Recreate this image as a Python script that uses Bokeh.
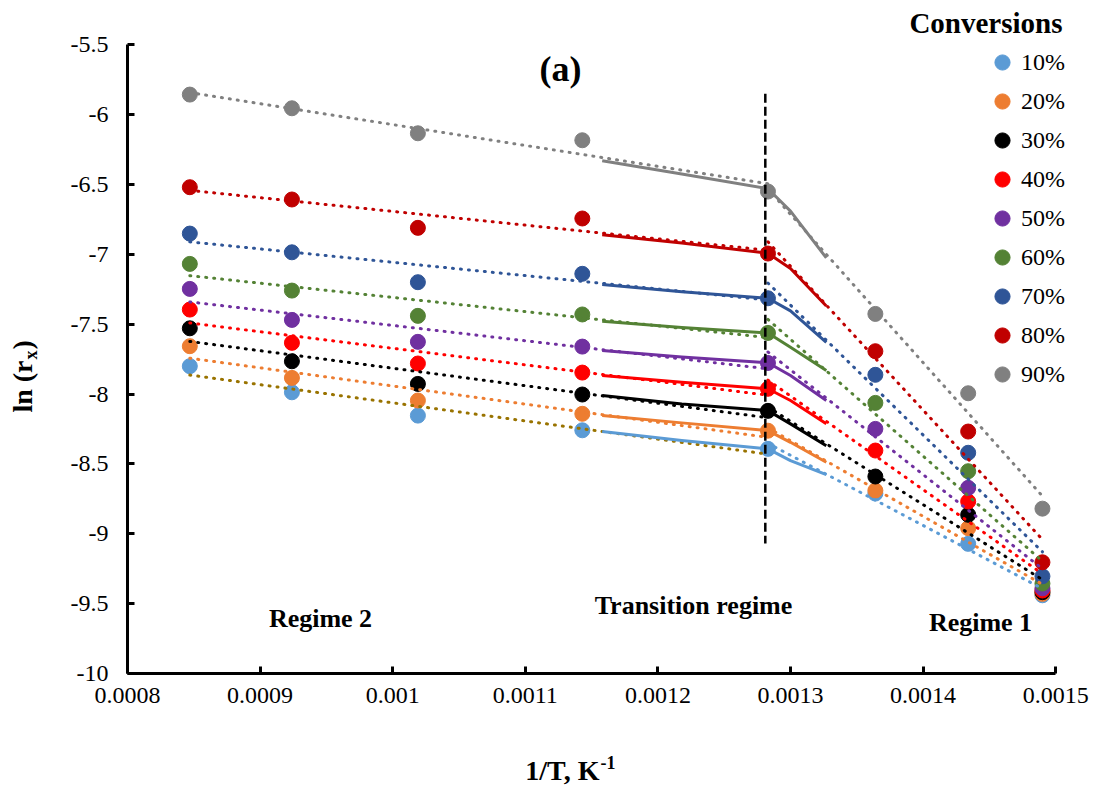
import numpy as np
from math import pi
from bokeh.plotting import figure
from bokeh.models import (Range1d, FixedTicker, NumeralTickFormatter, Legend,
                          LegendItem, Label)
from bokeh.embed import file_html
from bokeh.resources import INLINE

# ---------------- data ----------------
inv_T = [0.000847, 0.000924, 0.001019, 0.001143, 0.001283, 0.001364, 0.001434, 0.00149]

conversions = ["10%", "20%", "30%", "40%", "50%", "60%", "70%", "80%", "90%"]
colors = ["#5B9BD5", "#ED7D31", "#000000", "#FF0000", "#7030A0",
          "#548235", "#2F5597", "#C00000", "#808080"]
regime2_trend_colors = ["#997300", "#ED7D31", "#000000", "#FF0000", "#7030A0",
                        "#548235", "#2F5597", "#C00000", "#808080"]

ln_r_10 = [-7.800, -7.987, -8.154, -8.259, -8.392, -8.712, -9.072, -9.440]
ln_r_20 = [-7.657, -7.884, -8.046, -8.141, -8.262, -8.690, -8.960, -9.430]
ln_r_30 = [-7.529, -7.765, -7.927, -8.003, -8.120, -8.590, -8.864, -9.418]
ln_r_40 = [-7.395, -7.633, -7.781, -7.846, -7.962, -8.404, -8.769, -9.406]
ln_r_50 = [-7.247, -7.469, -7.626, -7.660, -7.777, -8.249, -8.671, -9.390]
ln_r_60 = [-7.068, -7.259, -7.440, -7.430, -7.562, -8.063, -8.552, -9.356]
ln_r_70 = [-6.851, -6.985, -7.199, -7.139, -7.314, -7.862, -8.420, -9.304]
ln_r_80 = [-6.519, -6.607, -6.810, -6.743, -6.994, -7.693, -8.268, -9.204]
ln_r_90 = [-5.856, -5.954, -6.133, -6.183, -6.550, -7.426, -7.994, -8.820]
ln_r = [ln_r_10, ln_r_20, ln_r_30, ln_r_40, ln_r_50, ln_r_60, ln_r_70, ln_r_80, ln_r_90]

# transition-regime curves (solid lines)
trans_x = [0.001158, 0.001218, 0.001283, 0.0013, 0.001327]
trans_10 = [-8.268, -8.332, -8.392, -8.476, -8.576]
trans_20 = [-8.154, -8.206, -8.261, -8.345, -8.488]
trans_30 = [-8.010, -8.071, -8.118, -8.213, -8.370]
trans_40 = [-7.867, -7.915, -7.962, -8.046, -8.213]
trans_50 = [-7.688, -7.735, -7.776, -7.867, -8.046]
trans_60 = [-7.479, -7.523, -7.562, -7.665, -7.831]
trans_70 = [-7.216, -7.267, -7.314, -7.404, -7.629]
trans_80 = [-6.860, -6.919, -6.992, -7.101, -7.370]
trans_90 = [-6.330, -6.425, -6.530, -6.690, -7.025]
trans = [trans_10, trans_20, trans_30, trans_40, trans_50, trans_60, trans_70, trans_80, trans_90]

regime2_idx = slice(0, 5)   # points fitted for regime 2 trendline
regime1_idx = slice(4, 8)   # points fitted for regime 1 trendline

boundary_x = 0.001281
boundary_y = [-5.85, -9.07]

x_ticks = [0.0008, 0.0009, 0.001, 0.0011, 0.0012, 0.0013, 0.0014, 0.0015]
y_ticks = [-10, -9.5, -9, -8.5, -8, -7.5, -7, -6.5, -6, -5.5]

# ---------------- layout ----------------
W, H = 1098, 787
AX_LEFT_PX, AX_BOTTOM_PX = 127, 673   # where the axes sit on the canvas
XPX = 1326000.0   # px per x unit
YPX = 139.7       # px per y unit


def X(px):
    return 0.0008 + (px - AX_LEFT_PX) / XPX


def Y(py):
    return -10.0 + (AX_BOTTOM_PX - py) / YPX


FONT = "Liberation Serif"

p = figure(width=W, height=H, x_range=Range1d(X(0), X(W)),
           y_range=Range1d(Y(H), Y(0)), output_backend="svg",
           toolbar_location=None, min_border=0, min_border_left=0,
           min_border_right=0, min_border_top=0, min_border_bottom=0,
           background_fill_color="white", border_fill_color="white")
p.outline_line_color = None
p.grid.visible = False

for ax, ticks, fmt, bounds, loc in (
        (p.xaxis[0], x_ticks, "0.[0000]", (0.0008, 0.0015), -10.0),
        (p.yaxis[0], y_ticks, "0.[0]", (-10, -5.5), 0.0008)):
    ax.ticker = FixedTicker(ticks=ticks)
    ax.formatter = NumeralTickFormatter(format=fmt)
    ax.bounds = bounds
    ax.fixed_location = loc
    ax.axis_line_width = 3
    ax.axis_line_color = "black"
    ax.major_tick_line_width = 3
    ax.major_tick_line_color = "black"
    ax.major_tick_in = 7
    ax.major_tick_out = 0
    ax.minor_tick_line_color = None
    ax.major_label_text_font = FONT
    ax.major_label_text_font_size = "24px"
    ax.major_label_text_color = "black"
p.yaxis[0].major_label_standoff = 19
p.xaxis[0].major_label_standoff = 14

# markers
scatter_renderers = []
for ys, col in zip(ln_r, colors):
    r = p.scatter(inv_T, ys, size=15, fill_color=col, line_color=col, marker="circle")
    scatter_renderers.append(r)

# dotted linear trendlines (least squares, as in the original spreadsheet)
xarr = np.array(inv_T)
for ys, col, col2 in zip(ln_r, colors, regime2_trend_colors):
    yarr = np.array(ys)
    for idx, c in ((regime2_idx, col2), (regime1_idx, col)):
        xs = xarr[idx]
        k = np.polyfit(xs, yarr[idx], 1)
        xe = np.array([xs[0], xs[-1]])
        p.line(xe, np.polyval(k, xe), line_color=c, line_width=3,
               line_dash="1 7", line_cap="round")

# solid transition curves
for ys, col in zip(trans, colors):
    p.line(trans_x, ys, line_color=col, line_width=3, line_join="round")

# vertical dashed boundary
p.line([boundary_x, boundary_x], boundary_y, line_color="black", line_width=2.5,
       line_dash="9 4")

# legend
legend = Legend(items=[LegendItem(label=c, renderers=[r])
                       for c, r in zip(conversions, scatter_renderers)],
                location=(983, 394), orientation="vertical",
                glyph_width=38, glyph_height=38, label_standoff=0, spacing=1,
                padding=0, margin=0, border_line_color=None,
                background_fill_alpha=0, label_text_font=FONT,
                label_text_font_size="24px", label_text_color="black")
p.add_layout(legend)


def lab(text, px, py, size, align="center", angle=0.0, bold=True):
    p.add_layout(Label(x=X(px), y=Y(py), text=text, text_font=FONT,
                       text_font_size=size, text_font_style="bold" if bold else "normal",
                       text_align=align, text_baseline="middle", angle=angle,
                       text_color="black"))


lab("Conversions", 1062, 22, "29px", align="right")
lab("(a)", 560, 68, "36px")
lab("Regime 2", 320, 618, "26px")
lab("Transition regime", 693, 605, "26px")
lab("Regime 1", 980, 622, "26px")
# x-axis title with superscript
lab("1/T, K", 599, 770, "28px", align="right")
lab("-1", 600, 762, "18px", align="left")
# y-axis title with subscript (rotated)
lab("ln (r", 21.5, 360, "28px", align="right", angle=pi / 2)
lab("x", 30, 359, "18px", align="left", angle=pi / 2)
lab(")", 21.5, 349, "28px", align="left", angle=pi / 2)

open("out.html", "w").write(file_html(p, INLINE))
